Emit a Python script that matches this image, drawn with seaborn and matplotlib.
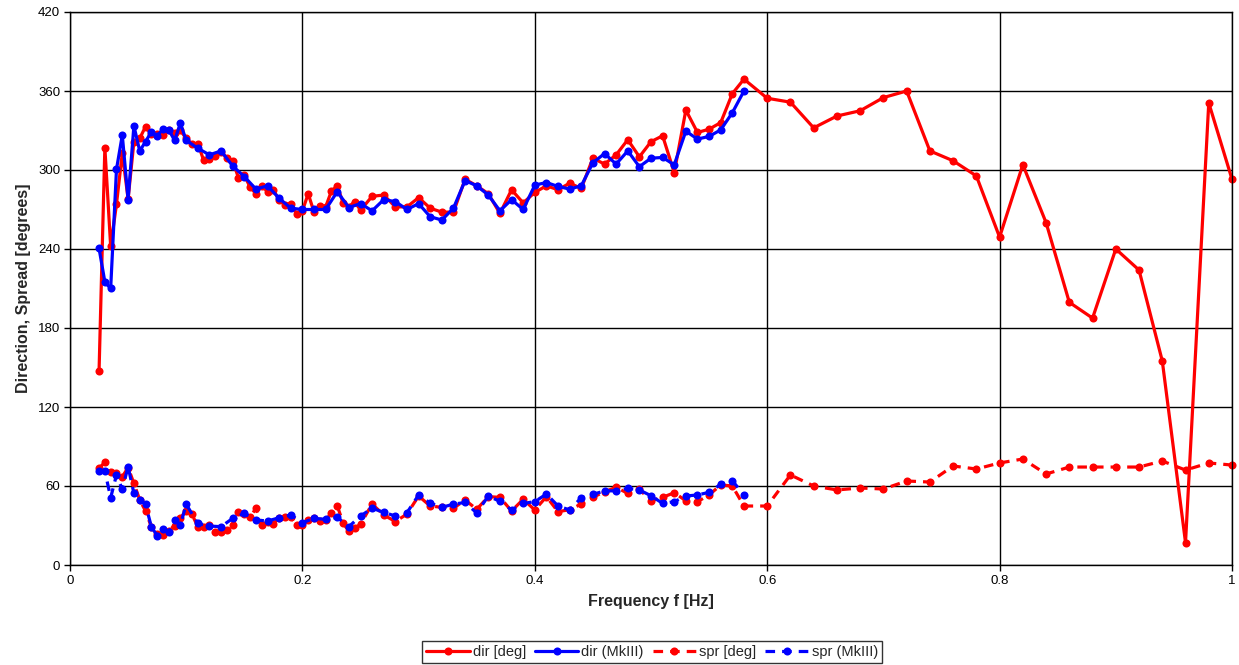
import numpy as np
import pandas as pd
import matplotlib
matplotlib.use("Agg")
import matplotlib.pyplot as plt
import seaborn as sns

# ---------------- data ----------------
# frequency grids [Hz]
freq_red_fine = np.round(np.arange(0.025, 0.2501, 0.005), 3)   # 46 pts
freq_red_mid = np.round(np.arange(0.26, 0.5801, 0.01), 3)      # 33 pts
freq_red_high = np.round(np.arange(0.60, 1.0001, 0.02), 3)     # 21 pts
freq_mk_fine = np.round(np.arange(0.025, 0.1001, 0.005), 3)    # 16 pts
freq_mk_coarse = np.round(np.arange(0.11, 0.5801, 0.01), 3)    # 48 pts

dir_red_fine = [147, 317, 242, 274, 313, 278, 321.5, 324, 333, 327, 327, 326.5,
                330, 328, 330, 324, 319.5, 320, 307.5, 308, 310.5, 314, 309, 307,
                294, 296, 287, 282, 288, 283.5, 285, 277, 273.5, 274.5, 266.5, 269,
                282, 268, 273, 272, 284, 288, 275, 272, 276, 269.5]
dir_red_mid = [280, 281, 272, 272, 279, 271, 268, 268, 293, 288, 282, 267, 285,
               275, 283, 288, 285, 290, 286, 309, 304.5, 311.5, 323, 310, 321.5,
               326, 298, 345.5, 328.5, 331, 336, 358, 369]
dir_red_high = [354.5, 351.5, 332, 341, 345, 355, 360, 314.5, 307, 295.5, 249,
                304, 260, 199.5, 187.5, 240, 224, 155, 17, 351, 293]

dir_mk_fine = [240.5, 215, 210, 300.5, 326.5, 277.5, 333.5, 314.5, 321.5, 329,
               326, 331, 330.5, 322.5, 335.5, 322.5]
dir_mk_coarse = [316.5, 311.5, 314.5, 303, 295, 285.5, 288, 278.5, 271, 270, 270,
                 270, 283.5, 271.5, 274.5, 269, 277.5, 276, 270, 274.5, 264.5, 262,
                 271, 292, 288, 281, 269, 277.5, 270, 288.5, 290.5, 287.5, 285.5,
                 288, 305.5, 312.5, 304.5, 314.5, 302.5, 309, 309.5, 304, 329.5,
                 323.5, 325.5, 330.5, 343.5, 360]

spr_red_fine = [73.5, 78, 70.5, 69.5, 67, 74, 62, 49.5, 41, 29, 23.5, 23, 26, 30,
                36, 41, 38.5, 29, 28.5, 30.5, 25, 25, 26.5, 30.5, 40, 39, 36.5, 43,
                30.5, 33, 31.5, 35.5, 36.5, 36.5, 30.5, 30.5, 34.5, 36, 33.5, 34,
                39.5, 45, 32, 25.5, 28, 31]
spr_red_mid = [46.3, 38, 33, 38.7, 52.4, 44.8, 43.8, 43.1, 49.4, 42.3, 51.9, 51.4,
               41, 49.9, 41.8, 51.9, 40.5, 42, 46.3, 51.4, 55.7, 59, 54.4, 57.5,
               48.8, 51.4, 54.9, 48.8, 48.1, 53.2, 60.8, 60, 44.8]
spr_red_high = [44.8, 68.4, 60, 57, 58.5, 57.7, 63.8, 63, 75.2, 72.9, 77.5, 80.5,
                69.1, 74.4, 74.4, 74.4, 74.4, 79, 72.1, 77.5, 75.9]

spr_mk_fine = [71.4, 71.4, 51.1, 68.4, 57.5, 74.7, 54.4, 49.4, 46.1, 29.1, 22.3,
               27.3, 24.8, 34.2, 30.4, 46.1]
spr_mk_coarse = [31.6, 29.6, 29.1, 35.4, 39.2, 34.2, 33.4, 35.9, 38, 32.1, 35.4,
                 34.7, 36.2, 29.1, 37.2, 43.1, 40, 37.2, 39.7, 53.2, 47, 43.8, 46.2,
                 47.5, 39.5, 52.4, 48.3, 41.8, 46.8, 48.1, 53.9, 44.8, 41.8, 51.1,
                 53.7, 56.2, 56.4, 58.2, 57, 52.6, 46.8, 48.1, 52.4, 53.2, 55.2,
                 61.3, 64, 53.2]

labels = ["dir [deg]", "dir (MkIII)", "spr [deg]", "spr (MkIII)"]
x_ticks = [0, 0.2, 0.4, 0.6, 0.8, 1]
x_ticklabels = ["0", "0.2", "0.4", "0.6", "0.8", "1"]
y_ticks = [0, 60, 120, 180, 240, 300, 360, 420]

# ---------------- tables ----------------
f_red = np.concatenate([freq_red_fine, freq_red_mid, freq_red_high])
f_mk = np.concatenate([freq_mk_fine, freq_mk_coarse])
df_dir_red = pd.DataFrame({"f": f_red, "v": dir_red_fine + dir_red_mid + dir_red_high})
df_dir_mk = pd.DataFrame({"f": f_mk, "v": dir_mk_fine + dir_mk_coarse})
df_spr_red = pd.DataFrame({"f": f_red, "v": spr_red_fine + spr_red_mid + spr_red_high})
df_spr_mk = pd.DataFrame({"f": f_mk, "v": spr_mk_fine + spr_mk_coarse})

# ---------------- style ----------------
sns.set_theme(style="white")
plt.rcParams["font.family"] = ["Liberation Sans", "DejaVu Sans"]

fig = plt.figure(figsize=(12.39, 6.65), dpi=100)
ax = fig.add_axes([70 / 1239, 1 - 565 / 665, 1162 / 1239, 553 / 665])

red = "#FF0000"
blue = "#0000FF"
lw = 2.3
ms = 5.8
dash = (0, (3.0, 2.2))

series = [
    (df_dir_red, red, "-", labels[0]),
    (df_dir_mk, blue, "-", labels[1]),
    (df_spr_red, red, dash, labels[2]),
    (df_spr_mk, blue, dash, labels[3]),
]
for df, col, ls, lab in series:
    sns.lineplot(data=df, x="f", y="v", ax=ax, color=col, linestyle=ls,
                 linewidth=lw, marker="o", markersize=ms, markeredgewidth=0,
                 markerfacecolor=col, sort=False, estimator=None, label=lab,
                 legend=False, clip_on=False)

ax.set_xlim(0, 1)
ax.set_ylim(0, 420)
ax.set_xticks(x_ticks)
ax.set_xticklabels(x_ticklabels)
ax.set_yticks(y_ticks)
ax.grid(True, color="black", linewidth=1.0)
ax.set_axisbelow(True)
for s in ax.spines.values():
    s.set_color("black")
    s.set_linewidth(1.0)
ax.tick_params(axis="both", which="major", direction="out", length=4, width=1,
               color="black", labelsize=9.5, labelcolor="black", pad=3,
               left=True, bottom=True)

ax.set_xlabel("Frequency f [Hz]", fontsize=11.5, fontweight="bold", labelpad=5)
ax.set_ylabel("Direction, Spread [degrees]", fontsize=11.5, fontweight="bold",
              labelpad=5)

handles = ax.get_lines()[:4]
leg = fig.legend(handles=handles, labels=labels, loc="center",
                 bbox_to_anchor=(652 / 1239, 1 - 652 / 665), ncol=4,
                 frameon=True, fancybox=False, fontsize=10.5, handlelength=3.0,
                 handletextpad=0.2, columnspacing=0.6, borderpad=0.25,
                 edgecolor="black")
leg.get_frame().set_linewidth(1.0)

fig.savefig("out.png", dpi=100)
